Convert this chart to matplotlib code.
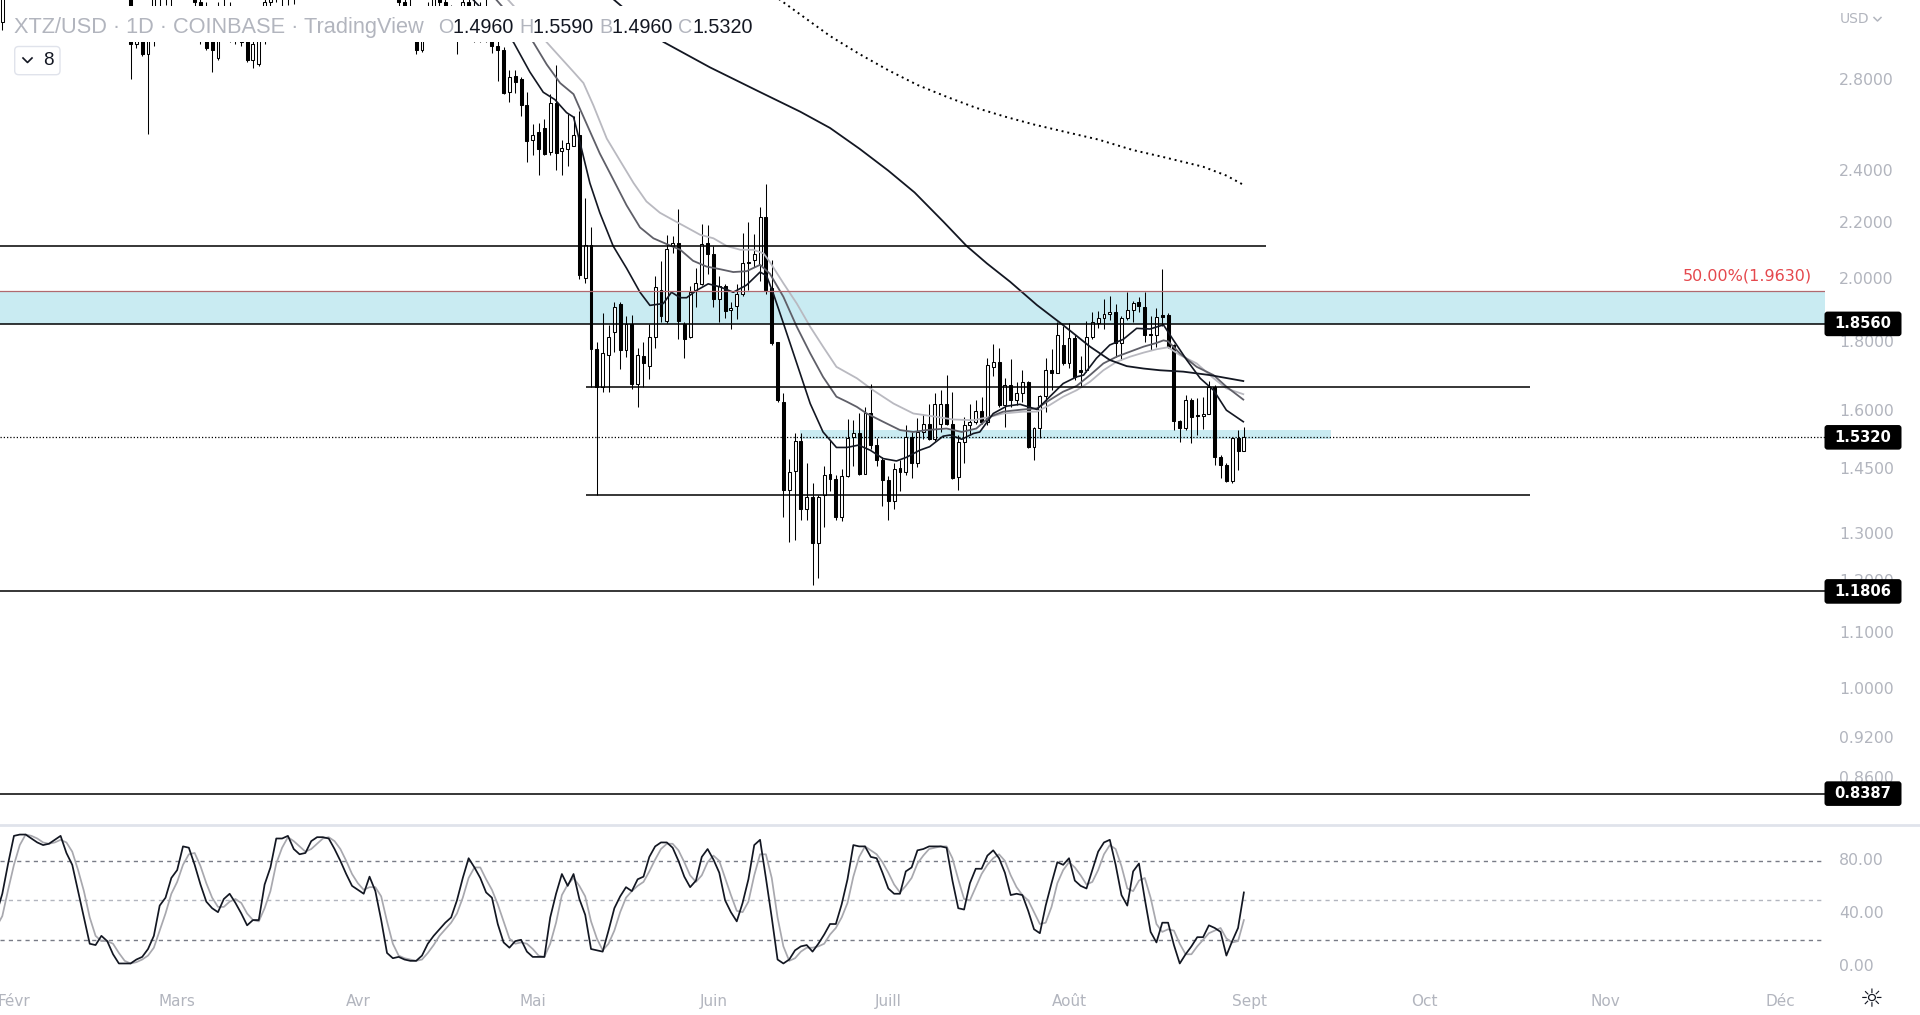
import numpy as np
import pandas as pd
import matplotlib
matplotlib.use("Agg")
import matplotlib.pyplot as plt
import matplotlib.transforms as mtransforms
from matplotlib.patches import FancyBboxPatch, Rectangle
from matplotlib.lines import Line2D

# XTZ/USD daily candles, 29 Jan 2022 -> 31 Aug 2022 (read off the chart;
# Feb-Apr candles sit mostly above the visible price range)
first_date = "2022-01-29"
opens = [
    3.00, 3.09, 3.40, 3.55, 3.45, 3.40, 3.50, 3.75, 4.05, 4.20,
    4.35, 4.15, 4.05, 4.10, 3.85, 3.65, 3.70, 3.55, 3.75, 3.60,
    3.40, 3.35, 3.30, 3.24, 2.98, 3.05, 2.93, 3.08, 3.25, 3.30,
    3.22, 3.30, 3.55, 3.50, 3.35, 3.20, 3.10, 3.00, 2.91, 3.15,
    3.10, 3.05, 3.02, 3.05, 2.90, 2.88, 3.10, 3.20, 3.30, 3.40,
    3.25, 3.35, 3.30, 3.50, 3.65, 3.85, 4.00, 3.95, 4.15, 4.30,
    4.25, 4.05, 3.90, 4.05, 3.95, 3.75, 3.60, 3.50, 3.40, 3.30,
    3.20, 3.15, 3.05, 2.95, 3.05, 3.15, 3.25, 3.20, 3.10, 3.05,
    3.10, 3.20, 3.15, 3.05, 3.15, 3.03, 2.97, 2.95, 2.746, 2.824,
    2.807, 2.686, 2.534, 2.566, 2.587, 2.484, 2.695, 2.488, 2.494, 2.508,
    2.555, 2.007, 2.120, 1.779, 1.669, 1.760, 1.830, 1.918, 1.777, 1.857,
    1.677, 1.758, 1.727, 1.816, 1.966, 1.866, 2.117, 2.127, 1.857, 1.816,
    1.966, 1.986, 2.127, 2.088, 1.937, 1.979, 1.900, 1.912, 1.952, 2.057,
    2.068, 2.051, 2.222, 1.971, 1.800, 1.627, 1.401, 1.447, 1.522, 1.358,
    1.386, 1.282, 1.389, 1.441, 1.427, 1.339, 1.435, 1.533, 1.542, 1.441,
    1.597, 1.512, 1.474, 1.425, 1.376, 1.455, 1.445, 1.534, 1.468, 1.545,
    1.568, 1.527, 1.568, 1.622, 1.568, 1.433, 1.521, 1.564, 1.572, 1.602,
    1.573, 1.726, 1.741, 1.618, 1.674, 1.632, 1.650, 1.681, 1.506, 1.556,
    1.642, 1.717, 1.709, 1.791, 1.738, 1.812, 1.717, 1.717, 1.814, 1.860,
    1.876, 1.887, 1.893, 1.797, 1.874, 1.901, 1.925, 1.910, 1.825, 1.822,
    1.885, 1.883, 1.791, 1.575, 1.557, 1.632, 1.590, 1.588, 1.595, 1.669,
    1.482, 1.462, 1.423, 1.531, 1.496,
]
highs = [
    3.15, 3.45, 3.60, 3.70, 3.60, 3.55, 3.80, 4.10, 4.30, 4.45,
    4.50, 4.30, 4.25, 4.20, 3.95, 3.80, 3.75, 3.80, 3.85, 3.70,
    3.50, 3.45, 3.40, 3.30, 3.10, 3.12, 3.10, 3.30, 3.40, 3.45,
    3.35, 3.60, 3.70, 3.60, 3.40, 3.30, 3.20, 3.10, 3.20, 3.25,
    3.20, 3.15, 3.10, 3.10, 3.00, 3.15, 3.25, 3.35, 3.45, 3.50,
    3.40, 3.45, 3.55, 3.70, 3.90, 4.10, 4.20, 4.25, 4.40, 4.50,
    4.35, 4.15, 4.10, 4.20, 4.05, 3.85, 3.70, 3.60, 3.45, 3.40,
    3.30, 3.22, 3.15, 3.10, 3.20, 3.30, 3.35, 3.25, 3.18, 3.15,
    3.25, 3.30, 3.25, 3.20, 3.22, 3.08, 3.00, 2.966, 2.851, 2.851,
    2.816, 2.746, 2.604, 2.607, 2.623, 2.737, 2.874, 2.532, 2.645, 2.640,
    2.661, 2.297, 2.187, 1.800, 1.891, 1.851, 1.927, 1.927, 1.880, 1.885,
    1.782, 1.799, 1.857, 2.014, 2.065, 2.157, 2.155, 2.254, 1.861, 1.979,
    2.039, 2.198, 2.194, 2.117, 2.014, 1.986, 1.925, 1.986, 2.164, 2.205,
    2.160, 2.262, 2.352, 2.068, 1.800, 1.650, 1.478, 1.543, 1.543, 1.467,
    1.417, 1.390, 1.459, 1.525, 1.437, 1.452, 1.579, 1.577, 1.597, 1.613,
    1.678, 1.529, 1.482, 1.435, 1.467, 1.474, 1.564, 1.547, 1.582, 1.595,
    1.620, 1.652, 1.660, 1.703, 1.655, 1.538, 1.586, 1.622, 1.632, 1.641,
    1.751, 1.793, 1.781, 1.693, 1.750, 1.683, 1.718, 1.685, 1.560, 1.645,
    1.751, 1.780, 1.863, 1.850, 1.860, 1.820, 1.758, 1.866, 1.894, 1.898,
    1.935, 1.947, 1.920, 1.880, 1.960, 1.928, 1.943, 1.960, 1.880, 1.907,
    2.035, 1.891, 1.793, 1.577, 1.645, 1.636, 1.636, 1.641, 1.686, 1.674,
    1.487, 1.466, 1.534, 1.551, 1.559,
]
lows = [
    2.95, 3.05, 3.35, 3.40, 3.35, 3.30, 3.45, 3.70, 3.95, 4.10,
    4.05, 3.95, 3.90, 3.75, 3.55, 3.55, 3.45, 3.50, 3.55, 3.35,
    3.30, 3.25, 3.22, 2.81, 2.96, 2.92, 2.56, 2.97, 3.16, 3.18,
    3.17, 3.25, 3.40, 3.30, 3.15, 2.98, 2.95, 2.843, 2.90, 3.05,
    2.99, 2.98, 2.97, 2.89, 2.86, 2.87, 2.98, 3.12, 3.20, 3.17,
    3.18, 3.19, 3.25, 3.45, 3.60, 3.80, 3.85, 3.90, 4.05, 4.15,
    4.00, 3.85, 3.85, 3.90, 3.70, 3.55, 3.45, 3.35, 3.25, 3.15,
    3.10, 3.00, 2.93, 2.94, 3.00, 3.10, 3.15, 3.05, 3.00, 2.93,
    3.05, 3.10, 2.99, 2.99, 2.99, 2.933, 2.80, 2.737, 2.700, 2.742,
    2.640, 2.442, 2.469, 2.388, 2.469, 2.469, 2.407, 2.388, 2.422, 2.508,
    2.001, 1.989, 1.669, 1.390, 1.653, 1.653, 1.771, 1.719, 1.755, 1.663,
    1.612, 1.669, 1.692, 1.782, 1.862, 1.859, 2.091, 1.810, 1.752, 1.812,
    1.909, 1.982, 2.020, 1.909, 1.862, 1.874, 1.839, 1.870, 1.946, 1.964,
    2.045, 1.995, 1.952, 1.790, 1.625, 1.339, 1.284, 1.288, 1.332, 1.332,
    1.193, 1.207, 1.317, 1.399, 1.332, 1.330, 1.433, 1.459, 1.437, 1.441,
    1.501, 1.459, 1.364, 1.332, 1.358, 1.400, 1.437, 1.429, 1.458, 1.527,
    1.525, 1.522, 1.546, 1.564, 1.427, 1.401, 1.466, 1.538, 1.568, 1.568,
    1.564, 1.700, 1.613, 1.560, 1.613, 1.618, 1.627, 1.504, 1.474, 1.529,
    1.600, 1.659, 1.707, 1.731, 1.724, 1.688, 1.669, 1.711, 1.808, 1.842,
    1.841, 1.867, 1.756, 1.746, 1.868, 1.863, 1.895, 1.800, 1.776, 1.786,
    1.849, 1.781, 1.551, 1.521, 1.551, 1.517, 1.538, 1.555, 1.595, 1.462,
    1.429, 1.421, 1.418, 1.449, 1.496,
]
closes = [
    3.09, 3.40, 3.55, 3.45, 3.40, 3.50, 3.75, 4.05, 4.20, 4.35,
    4.15, 4.05, 4.10, 3.85, 3.65, 3.70, 3.55, 3.75, 3.60, 3.40,
    3.35, 3.30, 3.24, 2.98, 3.05, 2.93, 3.08, 3.25, 3.30, 3.22,
    3.30, 3.55, 3.50, 3.35, 3.20, 3.10, 2.96, 2.95, 3.15, 3.10,
    3.05, 3.02, 2.99, 2.90, 2.98, 3.10, 3.20, 3.30, 3.40, 3.25,
    3.35, 3.30, 3.50, 3.65, 3.85, 4.00, 3.95, 4.15, 4.30, 4.25,
    4.05, 3.90, 4.05, 3.95, 3.75, 3.60, 3.50, 3.40, 3.30, 3.20,
    3.15, 3.05, 2.95, 3.05, 3.15, 3.25, 3.20, 3.10, 3.05, 3.10,
    3.20, 3.15, 3.05, 3.15, 3.03, 2.97, 2.95, 2.742, 2.816, 2.793,
    2.686, 2.527, 2.555, 2.494, 2.473, 2.695, 2.476, 2.499, 2.519, 2.555,
    2.016, 2.120, 1.779, 1.669, 1.766, 1.816, 1.909, 1.777, 1.857, 1.677,
    1.760, 1.738, 1.816, 1.976, 1.880, 2.107, 2.127, 1.866, 1.810, 1.958,
    1.989, 2.124, 2.088, 1.936, 1.980, 1.897, 1.908, 1.952, 2.058, 2.062,
    2.088, 2.222, 1.966, 1.797, 1.632, 1.401, 1.445, 1.522, 1.358, 1.386,
    1.282, 1.386, 1.437, 1.427, 1.339, 1.435, 1.531, 1.542, 1.441, 1.597,
    1.512, 1.474, 1.425, 1.376, 1.451, 1.445, 1.534, 1.468, 1.545, 1.566,
    1.527, 1.620, 1.622, 1.568, 1.429, 1.521, 1.564, 1.572, 1.602, 1.573,
    1.731, 1.741, 1.618, 1.674, 1.632, 1.650, 1.681, 1.506, 1.556, 1.642,
    1.717, 1.709, 1.820, 1.738, 1.812, 1.697, 1.711, 1.814, 1.863, 1.876,
    1.887, 1.893, 1.797, 1.874, 1.901, 1.922, 1.912, 1.822, 1.822, 1.879,
    1.879, 1.786, 1.575, 1.557, 1.632, 1.586, 1.588, 1.595, 1.669, 1.4825,
    1.462, 1.423, 1.531, 1.496, 1.532,
]

# Stochastic RSI, same days as the candles
stoch_k = [
    40, 55, 78, 99, 100, 100, 97, 94, 92, 93,
    96, 99, 86, 77, 57, 37, 17, 16, 23, 19,
    9, 2, 2, 2, 5, 7, 13, 23, 46, 52,
    67, 73, 91, 90, 77, 62, 49, 44, 41, 51,
    55, 48, 40, 31, 35, 35, 62, 75, 97, 97,
    99, 89, 85, 86, 95, 98, 98, 97, 89, 80,
    70, 61, 58, 55, 68, 57, 35, 10, 6, 7,
    5, 4, 4, 8, 17, 23, 28, 33, 37, 50,
    67, 82, 75, 67, 56, 52, 32, 18, 14, 19,
    20, 11, 7, 7, 7, 37, 55, 70, 61, 70,
    51, 39, 13, 12, 11, 27, 44, 53, 60, 57,
    66, 68, 83, 91, 94, 94, 90, 80, 68, 60,
    65, 83, 89, 81, 71, 50, 41, 34, 48, 66,
    92, 96, 67, 37, 5, 2, 5, 12, 15, 16,
    11, 17, 24, 32, 32, 47, 66, 92, 91, 91,
    83, 82, 71, 59, 55, 55, 72, 75, 88, 89,
    91, 91, 91, 90, 65, 44, 43, 63, 74, 74,
    84, 88, 82, 71, 54, 55, 54, 42, 28, 25,
    46, 63, 79, 77, 82, 65, 61, 59, 73, 87,
    94, 96, 77, 54, 46, 72, 78, 51, 26, 18,
    33, 33, 16, 2, 9, 15, 22, 22, 31, 29,
    26, 8, 19, 29, 56,
]
stoch_d = [
    30, 38, 58, 77, 92, 100, 99, 97, 94, 93,
    94, 96, 94, 87, 73, 57, 37, 23, 19, 19,
    17, 10, 4, 2, 3, 5, 8, 14, 27, 40,
    55, 64, 77, 85, 86, 76, 63, 52, 45, 45,
    49, 51, 48, 40, 35, 34, 44, 57, 78, 90,
    98, 95, 91, 87, 89, 93, 97, 98, 95, 89,
    80, 70, 63, 58, 60, 60, 53, 34, 17, 8,
    6, 5, 4, 5, 10, 16, 23, 28, 33, 40,
    52, 67, 75, 75, 66, 58, 47, 34, 21, 17,
    18, 17, 13, 8, 7, 17, 33, 54, 62, 67,
    61, 53, 34, 21, 12, 17, 27, 41, 52, 57,
    61, 64, 72, 81, 89, 93, 93, 88, 79, 69,
    64, 69, 79, 84, 80, 67, 54, 42, 41, 49,
    69, 85, 85, 67, 37, 15, 4, 6, 11, 14,
    14, 15, 17, 24, 29, 37, 48, 68, 83, 91,
    88, 85, 79, 71, 62, 56, 61, 67, 78, 84,
    89, 90, 91, 91, 82, 66, 51, 50, 60, 70,
    77, 82, 85, 80, 69, 60, 54, 50, 41, 32,
    33, 45, 63, 73, 79, 75, 69, 62, 64, 73,
    85, 92, 89, 76, 59, 57, 65, 67, 52, 32,
    26, 28, 27, 17, 9, 9, 15, 20, 25, 27,
    29, 21, 18, 19, 35,
]

# moving averages: day offset from 1 Feb / value
ema_fast_day = [78.5, 85.7, 88.5, 90.8, 92.8, 94.8, 96.0, 97.1, 98.8, 100.5, 102.8, 105.1,
                107.4, 109.1, 111.4, 112.8, 114.3, 115.4, 117.1, 119.1, 121.1, 123.4, 125.7,
                128.0, 129.1, 130.3, 132.0, 134.3, 136.6, 138.8, 141.1, 142.9, 144.9, 146.9,
                149.1, 151.4, 153.1, 155.4, 157.1, 159.4, 160.6, 162.6, 164.6, 165.7, 168.0,
                170.3, 172.6, 175.5, 177.7, 180.0, 182.3, 183.5, 185.7, 188.0, 190.3, 192.6,
                194.9, 197.2, 198.9, 201.2, 203.5, 205.8, 208.0, 210.9]
ema_fast_val = [3.22, 2.988, 2.842, 2.746, 2.712, 2.653, 2.633, 2.523, 2.355, 2.240, 2.117, 2.039,
                1.958, 1.915, 1.921, 1.958, 1.940, 1.940, 1.964, 1.986, 1.976, 1.958, 1.982,
                2.026, 2.014, 1.952, 1.858, 1.736, 1.622, 1.546, 1.506, 1.506, 1.512, 1.499,
                1.478, 1.472, 1.481, 1.499, 1.508, 1.535, 1.538, 1.527, 1.542, 1.546, 1.595,
                1.615, 1.620, 1.606, 1.641, 1.678, 1.697, 1.702, 1.751, 1.791, 1.808, 1.842,
                1.840, 1.853, 1.806, 1.746, 1.693, 1.659, 1.604, 1.573]
ema_mid_day = [82.5, 89.1, 91.4, 93.7, 96.0, 97.1, 98.8, 100.5, 102.8, 105.1, 107.4, 109.7,
               112.0, 114.3, 116.5, 118.8, 121.1, 123.4, 125.7, 128.0, 129.7, 132.0, 134.3,
               136.6, 138.8, 141.1, 142.9, 144.6, 146.3, 149.1, 152.0, 154.3, 156.6, 160.0,
               162.6, 165.1, 167.4, 169.7, 173.2, 175.5, 177.7, 180.0, 182.3, 184.6, 186.9,
               189.2, 191.5, 193.8, 196.0, 197.2, 198.0, 200.0, 202.9, 205.8, 208.0, 210.9]
ema_mid_val = [3.22, 2.988, 2.878, 2.789, 2.737, 2.670, 2.571, 2.476, 2.370, 2.268, 2.185, 2.145,
               2.124, 2.104, 2.065, 2.045, 2.036, 2.026, 2.029, 2.051, 2.020, 1.943, 1.847,
               1.766, 1.697, 1.641, 1.627, 1.613, 1.595, 1.573, 1.551, 1.546, 1.551, 1.555,
               1.546, 1.555, 1.586, 1.600, 1.606, 1.609, 1.632, 1.655, 1.671, 1.702, 1.736,
               1.756, 1.771, 1.786, 1.797, 1.805, 1.802, 1.766, 1.726, 1.702, 1.669, 1.633]
ema_slow_day = [84.5, 91.4, 93.7, 96.0, 97.7, 99.4, 101.7, 104.0, 106.3, 108.5, 110.8, 113.1,
                115.4, 117.7, 120.0, 122.3, 124.6, 126.8, 128.6, 129.7, 132.0, 134.3, 136.6,
                138.8, 141.1, 144.6, 147.4, 150.9, 154.3, 158.3, 161.1, 164.6, 167.4, 169.7,
                173.2, 175.5, 177.7, 180.0, 182.3, 184.6, 186.9, 189.2, 191.5, 193.8, 196.0,
                198.0, 200.0, 202.9, 205.8, 208.0, 210.9]
ema_slow_val = [3.22, 2.988, 2.914, 2.842, 2.789, 2.686, 2.539, 2.445, 2.355, 2.283, 2.240, 2.212,
                2.185, 2.158, 2.145, 2.117, 2.104, 2.104, 2.091, 2.060, 1.988, 1.921, 1.847,
                1.786, 1.726, 1.693, 1.659, 1.622, 1.595, 1.586, 1.579, 1.577, 1.586, 1.595,
                1.600, 1.600, 1.618, 1.641, 1.659, 1.683, 1.716, 1.741, 1.756, 1.768, 1.778,
                1.784, 1.761, 1.736, 1.693, 1.664, 1.648]
sma50_day = [102.6, 111.4, 119.4, 127.9, 134.9, 140.0, 145.1, 150.0, 154.5, 159.5, 163.4,
             166.9, 170.9, 175.5, 180.0, 184.6, 188.0, 190.9, 193.8, 196.6, 200.6, 205.2, 210.9]
sma50_val = [3.22, 2.990, 2.864, 2.748, 2.657, 2.585, 2.495, 2.405, 2.318, 2.205, 2.118,
             2.056, 1.993, 1.916, 1.852, 1.786, 1.746, 1.728, 1.721, 1.716, 1.712, 1.702, 1.685]
sma200_day = [131, 140, 145, 150, 155, 160, 165, 170, 175, 180, 186, 192, 197, 204, 208, 211]
sma200_val = [3.22, 3.02, 2.93, 2.85, 2.78, 2.725, 2.675, 2.635, 2.60, 2.57, 2.535, 2.49,
              2.462, 2.421, 2.385, 2.347]

# levels drawn on the chart
resist_level = 2.117
fib_level = 1.963
zone_level = 1.856
range_high = 1.668
range_low = 1.390
support_1 = 1.1806
support_2 = 0.8387
mini_zone = [1.527, 1.551]

price_ticks = [2.8, 2.4, 2.2, 2.0, 1.8, 1.6, 1.45, 1.3, 1.2, 1.1, 1.0, 0.92, 0.86]
stoch_ticks = [80, 40, 0]
stoch_guides = [80, 50, 20]
month_names = ["Févr", "Mars", "Avr", "Mai", "Juin", "Juill", "Août", "Sept", "Oct", "Nov", "Déc"]

# ---------------------------------------------------------------------------
W, H = 1920, 1015
GREY = "#b2b5be"
INK = "#131722"
CYAN = "#c9ebf2"

fig = plt.figure(figsize=(W / 100, H / 100), dpi=100)
fig.patch.set_facecolor("white")
pix = mtransforms.IdentityTransform()   # display pixels, origin bottom-left

pane_right = 1824.5
ax = fig.add_axes([0, 1 - 824 / H, pane_right / W, 824 / H])
ax2 = fig.add_axes([0, 1 - 984 / H, pane_right / W, (984 - 826) / H])
for a in (ax, ax2):
    a.set_axis_off()

feb1 = pd.Timestamp("2022-02-01")
days = (pd.date_range(first_date, periods=len(closes), freq="D") - feb1).days.to_numpy()
month_pos = (pd.date_range("2022-02-01", periods=len(month_names), freq="MS") - feb1).days.to_numpy()

day_px = 5.829
x0 = -13.96 / day_px
x1 = x0 + pane_right / day_px
for a in (ax, ax2):
    a.set_xlim(x0, x1)
ax.set_yscale("log")
ax.set_ylim(0.7967, 3.2095)
ax2.set_ylim(-13.6, 106.5)

# zones and drawn lines
ax.axhspan(zone_level, fib_level, color=CYAN, lw=0, zorder=1)
ax.fill_between([134.8, 226.0], mini_zone[0], mini_zone[1], color=CYAN, lw=0, zorder=1)
ax.axhline(fib_level, color="#b0696f", lw=0.9, zorder=6)
ax.axhline(zone_level, color="black", lw=1.1, zorder=6)
ax.hlines(resist_level, x0, 214.8, color="black", lw=1.1, zorder=6)
ax.hlines([range_high, range_low], 98.2, 260.0, color="black", lw=1.1, zorder=6)
ax.axhline(support_1, color="black", lw=1.1, zorder=6)
ax.axhline(support_2, color="black", lw=1.1, zorder=6)
ax.axhline(closes[-1], color="black", lw=0.9, ls=(0, (1, 1.6)), zorder=6)
ax.text(1812 / pane_right, 2.014, "50.00%(1.9630)", transform=ax.get_yaxis_transform(),
        ha="right", va="center", fontsize=11.5, color="#e5484d", zorder=7)

# candles
o, h, l, c = (np.array(v) for v in (opens, highs, lows, closes))
up = c >= o
ax.vlines(days, l, h, color="black", lw=0.75, zorder=3)
ax.bar(days[up], (c - o)[up], bottom=o[up], width=0.5, color="white",
       edgecolor="black", lw=0.75, zorder=4)
ax.bar(days[~up], (o - c)[~up], bottom=c[~up], width=0.5, color="black",
       edgecolor="black", lw=0.75, zorder=4)

# moving averages
ax.plot(ema_slow_day, ema_slow_val, color="#b9b9c0", lw=1.3, zorder=5)
ax.plot(ema_mid_day, ema_mid_val, color="#5f5f68", lw=1.3, zorder=5)
ax.plot(ema_fast_day, ema_fast_val, color=INK, lw=1.2, zorder=5)
ax.plot(sma50_day, sma50_val, color=INK, lw=1.3, zorder=5)
ax.plot(sma200_day, sma200_val, color="black", lw=1.4, ls=(0, (1, 2)), zorder=5)

# price scale
ytr = ax.get_yaxis_transform()
for p in price_ticks:
    ax.text(1.008, p, f"{p:.4f}", transform=ytr, ha="left", va="center",
            fontsize=11.3, color=GREY, zorder=2)


def price_tag(a, value, label):
    base = mtransforms.ScaledTranslation(1.0, value, a.get_yaxis_transform())
    box = FancyBboxPatch((0, -12.3), 77, 24.6, boxstyle="round,pad=0,rounding_size=3",
                         transform=mtransforms.Affine2D() + base, fc="black", ec="none",
                         zorder=30)
    a.add_patch(box)
    box.set_clip_on(False)
    a.text(0, 0, label, transform=mtransforms.Affine2D().translate(38.5, 0) + base,
           ha="center", va="center", fontsize=10.6, fontweight="bold", color="white", zorder=31)


for lvl in (zone_level, closes[-1], support_1, support_2):
    price_tag(ax, lvl, f"{lvl:.4f}")

# stochastic RSI pane
for g in stoch_guides:
    ax2.axhline(g, color="#787b86" if g != 50 else GREY, lw=1, ls=(0, (3, 3)), zorder=1)
ax2.plot(days, stoch_d, color="#a8a8ae", lw=1.25, zorder=2)
ax2.plot(days, stoch_k, color=INK, lw=1.25, zorder=3)
for v in stoch_ticks:
    ax2.text(1.008, v, f"{v:.2f}", transform=ax2.get_yaxis_transform(), ha="left",
             va="center", fontsize=11.3, color=GREY)

# time axis
mtr = mtransforms.blended_transform_factory(ax2.transData, fig.transFigure)
for pos, name in zip(month_pos, month_names):
    ax2.text(pos, 1 - 1001.6 / H, name, transform=mtr, ha="center", va="center",
             fontsize=11, color=GREY)

# pane separator
sep = Line2D([0, W], [H - 824.5, H - 824.5], transform=pix, color="#e0e3eb", lw=2)
ax.add_line(sep)
sep.set_clip_on(False)

# legend header (white strip hides the candles behind it)
hdr = Rectangle((7, H - 42), 758, 36, transform=pix, fc="white", ec="none", zorder=20)
ax.add_patch(hdr)
hdr.set_clip_on(False)
ax.text(14, H - 33, "XTZ/USD · 1D · COINBASE · TradingView", transform=pix,
        family="Liberation Sans", fontsize=15.7, color=GREY, va="baseline", zorder=21)
pieces = [("O", GREY), ("1.4960 ", INK), ("H", GREY), ("1.5590 ", INK),
          ("B", GREY), ("1.4960 ", INK), ("C", GREY), ("1.5320", INK)]
prev = ax.text(437.8, H - 33, pieces[0][0], transform=pix, family="Liberation Sans",
               fontsize=14.2, color=pieces[0][1], va="baseline", zorder=21)
for txt, col in pieces[1:]:
    prev = ax.annotate(txt, xy=(1, 0), xycoords=prev, va="bottom", ha="left",
                       family="Liberation Sans", fontsize=14.2, color=col,
                       annotation_clip=False, zorder=21)

# collapsed-indicator button
btn = FancyBboxPatch((14.7, H - 74.7), 45.3, 28.2, boxstyle="round,pad=0,rounding_size=4",
                     transform=pix, fc="white", ec="#e0e3eb", lw=1, zorder=20)
ax.add_patch(btn)
btn.set_clip_on(False)
chev = Line2D([23, 27.5, 32], [H - 58, H - 62.5, H - 58], transform=pix, color=INK, lw=1.2,
              zorder=21)
ax.add_line(chev)
chev.set_clip_on(False)
ax.text(48.5, H - 60.5, "8", transform=pix, ha="center", va="center",
        family="Liberation Sans", fontsize=13.5, color=INK, zorder=21)

# currency and settings
ax.text(1840, H - 19, "USD", transform=pix, ha="left", va="center", fontsize=10, color=GREY)
chev2 = Line2D([1874, 1877.5, 1881], [H - 17.5, H - 21, H - 17.5], transform=pix,
               color=GREY, lw=1.1)
ax.add_line(chev2)
chev2.set_clip_on(False)
ax.text(1872, H - 1000, "☼", transform=pix, ha="center", va="center", fontsize=19, color=INK)

fig.savefig("out.png", dpi=100)
